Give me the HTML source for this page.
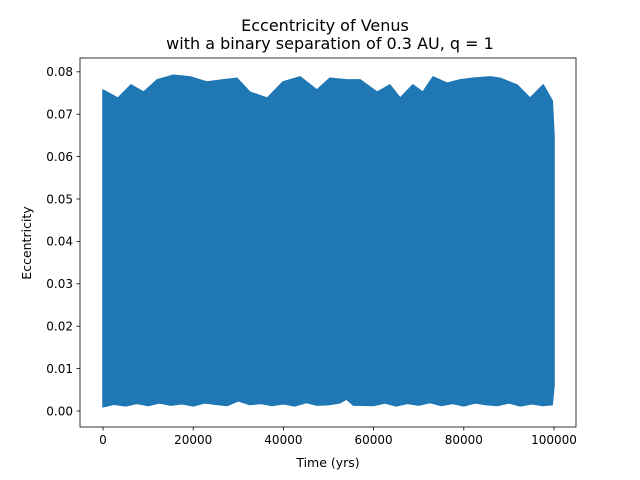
<!DOCTYPE html>
<html><head><meta charset="utf-8"><style>
body{margin:0;background:#fff}
svg{display:block;font-family:"DejaVu Sans","Liberation Sans",sans-serif}
</style></head><body>
<svg id="c" width="640" height="480" viewBox="0 0 640 480">
<rect x="0" y="0" width="640" height="480" fill="#fff"/>
<text x="325" y="31" text-anchor="middle" font-size="16">Eccentricity of Venus</text>
<text x="330" y="49" text-anchor="middle" font-size="16">with a binary separation of 0.3 AU, q = 1</text>
<g id="plot"></g>
<text x="328" y="467" text-anchor="middle" font-size="12.5">Time (yrs)</text>
<text transform="translate(31,243) rotate(-90)" text-anchor="middle" font-size="12.5">Eccentricity</text>
</svg>
<script>
const upperX=[0,3300,6200,9000,12000,15600,19300,23000,26600,29700,32600,36400,39900,43700,47400,50300,54100,57000,60800,63600,65900,68700,70900,73200,76300,79200,82000,85800,88000,91800,94700,97600,99600,100000];
const upperY=[0.0757,0.0738,0.0769,0.0752,0.0781,0.0792,0.0788,0.0776,0.0781,0.0785,0.0752,0.0738,0.0776,0.0788,0.0757,0.0785,0.0781,0.0781,0.0752,0.0769,0.0738,0.0769,0.0752,0.0788,0.0773,0.0781,0.0785,0.0788,0.0785,0.0769,0.0738,0.0769,0.0732,0.065];
const lowerX=[0,2500,5000,7500,10000,12500,15000,17500,20000,22500,25000,27500,30000,32500,35000,37500,40000,42500,45000,47500,50000,52500,54000,55500,60000,62500,65000,67500,70000,72500,75000,77500,80000,82500,85000,87500,90000,92500,95000,97500,99600,100000];
const lowerY=[0.0010,0.0016,0.0012,0.0018,0.0013,0.0019,0.0014,0.0017,0.0012,0.0019,0.0016,0.0013,0.0024,0.0015,0.0018,0.0013,0.0017,0.0012,0.0020,0.0014,0.0015,0.0019,0.0028,0.0014,0.0013,0.0019,0.0012,0.0018,0.0014,0.0020,0.0013,0.0018,0.0012,0.0019,0.0015,0.0013,0.0019,0.0012,0.0017,0.0013,0.0015,0.006];
const xTicks=[0,20000,40000,60000,80000,100000];
const yTicks=[0,0.01,0.02,0.03,0.04,0.05,0.06,0.07,0.08];
const yTickLabels=["0.00","0.01","0.02","0.03","0.04","0.05","0.06","0.07","0.08"];
const L=80,R=576,T=58,B=427;
const xs=v=>103+v/100000*451;
const ys=v=>411-v/0.01*42.4;
const g=document.getElementById('plot');
const NS='http://www.w3.org/2000/svg';
function mk(t,a){const e=document.createElementNS(NS,t);for(const k in a)e.setAttribute(k,a[k]);g.appendChild(e);return e;}
let pts=[];
upperX.forEach((x,i)=>pts.push(xs(x).toFixed(1)+','+ys(upperY[i]).toFixed(1)));
for(let i=lowerX.length-1;i>=0;i--)pts.push(xs(lowerX[i]).toFixed(1)+','+ys(lowerY[i]).toFixed(1));
const band=mk('polygon',{points:pts.join(' '),fill:'#1f77b4',stroke:'#1f77b4','stroke-width':1.5,'stroke-linejoin':'round'});


const fr=mk('rect',{x:L,y:T,width:R-L,height:B-T,fill:'none',stroke:'#000','stroke-width':0.8});


xTicks.forEach(v=>{
  const x=xs(v);
  const tk=mk('line',{x1:x,x2:x,y1:B,y2:B+3.5,stroke:'#000','stroke-width':0.8});
  
  
  const t=mk('text',{x:x,y:B+17,'text-anchor':'middle','font-size':12});
  t.textContent=String(v);
  
  
});
yTicks.forEach((v,i)=>{
  const y=ys(v);
  const tk=mk('line',{x1:L-3.5,x2:L,y1:y,y2:y,stroke:'#000','stroke-width':0.8});
  
  
  const t=mk('text',{x:L-7,y:y+4.3,'text-anchor':'end','font-size':12});
  t.textContent=yTickLabels[i];
  
  
});
</script>
</body></html>
